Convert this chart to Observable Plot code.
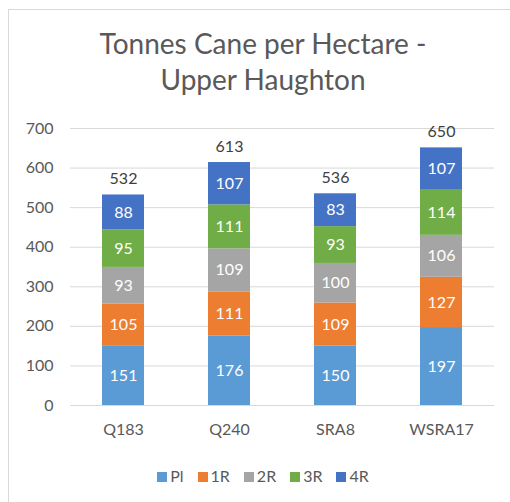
<!DOCTYPE html>
<html>
<head>
<meta charset="utf-8">
<script src="https://cdn.jsdelivr.net/npm/d3@7"></script>
<script src="https://cdn.jsdelivr.net/npm/@observablehq/plot@0.6"></script>
<style>
  body { margin: 0; background: #fff; font-family: Lato, "Open Sans", sans-serif; }
  #frame { position: absolute; left: 8px; top: 9px; width: 520px; height: 520px; border: 1px solid #d9d9d9; box-sizing: border-box; }
  #title { position: absolute; left: 0; top: 25px; width: 526px; text-align: center; font-size: 28px; line-height: 36px; color: #595959; }
  #chart { position: absolute; left: 0; top: 0; }
  #legend { position: absolute; left: 0; top: 466px; width: 526px; text-align: center; font-size: 16px; color: #595959; }
  #legend span.item { margin: 0 7px; white-space: nowrap; }
  #legend span.sw { display: inline-block; width: 10px; height: 10px; margin-right: 3px; vertical-align: 0px; }
</style>
</head>
<body>
<div id="frame"></div>
<div id="title">Tonnes Cane per Hectare -<br>Upper Haughton</div>
<div id="chart"></div>
<div id="legend"></div>
<script>
const varieties = ["Q183", "Q240", "SRA8", "WSRA17"];
const seriesNames = ["Pl", "1R", "2R", "3R", "4R"];
const plValues = [151, 176, 150, 197];
const r1Values = [105, 111, 109, 127];
const r2Values = [93, 109, 100, 106];
const r3Values = [95, 111, 93, 114];
const r4Values = [88, 107, 83, 107];
const totalLabels = [532, 613, 536, 650];
const colors = ["#5B9BD5", "#ED7D31", "#A5A5A5", "#70AD47", "#4472C4"];
const yTicks = [0, 100, 200, 300, 400, 500, 600, 700];

const seriesValues = [plValues, r1Values, r2Values, r3Values, r4Values];
const data = [];
seriesNames.forEach((s, i) => {
  varieties.forEach((v, j) => {
    data.push({variety: v, series: s, value: seriesValues[i][j]});
  });
});
const totals = varieties.map((v, j) => ({variety: v, total: totalLabels[j]}));

const fontFamily = 'Lato, "Open Sans", sans-serif';

const chart = Plot.plot({
  width: 510,
  height: 460,
  marginTop: 128,
  marginBottom: 55,
  marginLeft: 70,
  marginRight: 16,
  style: {fontFamily, fontSize: "16px", color: "#595959", background: "transparent"},
  x: {domain: varieties, paddingInner: 0.6, paddingOuter: 0.3, label: null},
  y: {domain: [0, 700], ticks: yTicks, label: null},
  color: {domain: seriesNames, range: colors},
  marks: [
    Plot.gridY(yTicks, {stroke: "#d9d9d9", strokeOpacity: 1, strokeWidth: 1}),
    Plot.barY(data, Plot.stackY({x: "variety", y: "value", fill: "series", z: "series", inset: 0})),
    Plot.textY(data, Plot.stackY({x: "variety", y: "value", z: "series", text: d => String(d.value), fill: "white", fontSize: 16})),
    Plot.text(totals, {x: "variety", y: "total", text: d => String(d.total), dy: -16, fill: "#404040", fontSize: 16}),
    Plot.axisX({tickSize: 0, tickPadding: 18, fontSize: 16}),
    Plot.axisY(yTicks, {tickSize: 0, tickPadding: 17, fontSize: 16, anchor: "left"})
  ]
});
document.getElementById("chart").appendChild(chart);

const legend = document.getElementById("legend");
seriesNames.forEach((s, i) => {
  const item = document.createElement("span");
  item.className = "item";
  const sw = document.createElement("span");
  sw.className = "sw";
  sw.style.background = colors[i];
  item.appendChild(sw);
  item.appendChild(document.createTextNode(s));
  legend.appendChild(item);
});
</script>
</body>
</html>
